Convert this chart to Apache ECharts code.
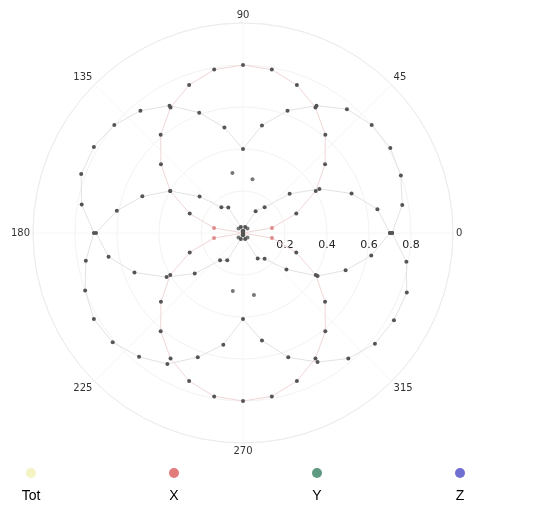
<!DOCTYPE html>
<html>
<head>
<meta charset="utf-8">
<script src="https://cdn.jsdelivr.net/npm/echarts@6/dist/echarts.min.js"></script>
<style>
  html, body { margin: 0; padding: 0; background: #fff; }
  #chart { width: 538px; height: 509px; }
</style>
</head>
<body>
<div id="chart"></div>
<script>
// angle samples (degrees) shared by Tot, X, Y
const angles = [0, 10, 20, 30, 40, 50, 60, 70, 80, 90, 100, 110, 120, 130, 140, 150, 160, 170, 180,
  190, 200, 210, 220, 230, 240, 250, 260, 270, 280, 290, 300, 310, 320, 330, 340, 350, 360]

// radius values
const totR = [0.71, 0.77, 0.80, 0.81, 0.80, 0.77, 0.70, 0.62, 0.52, 0.40, 0.51, 0.61, 0.70, 0.76, 0.80, 0.82, 0.82, 0.78, 0.71,
  0.76, 0.80, 0.82, 0.81, 0.77, 0.72, 0.63, 0.54, 0.41, 0.52, 0.63, 0.71, 0.78, 0.82, 0.83, 0.83, 0.79, 0.71]
const xR = [0.70, 0.65, 0.55, 0.42, 0.29, 0.16, 0.12, 0.03, 0.01, 0, 0.01, 0.03, 0.14, 0.16, 0.27, 0.40, 0.51, 0.61, 0.70,
  0.65, 0.55, 0.42, 0.30, 0.17, 0.15, 0.03, 0.01, 0, 0.01, 0.03, 0.14, 0.16, 0.27, 0.41, 0.52, 0.62, 0.70]
const yR = [0, 0.14, 0.27, 0.40, 0.51, 0.61, 0.69, 0.75, 0.79, 0.80, 0.79, 0.75, 0.69, 0.61, 0.51, 0.40, 0.27, 0.14, 0,
  0.14, 0.27, 0.40, 0.51, 0.61, 0.69, 0.75, 0.79, 0.80, 0.79, 0.75, 0.69, 0.61, 0.51, 0.40, 0.27, 0.14, 0]
// Z only shows a few points
const zAngles = [45, 80, 100, 135, 225, 260, 280, 315]
const zR = [0.03, 0.26, 0.29, 0.03, 0.03, 0.28, 0.30, 0.03]

const seriesNames = ['Tot', 'X', 'Y', 'Z']
const legendColors = ['#f3f3c4', '#e27b7b', '#5e9a80', '#7070d2']

const chart = echarts.init(document.getElementById('chart'))

const pairs = (rs, as) => rs.map((r, i) => [r, as[i]])

const rich = {
  t: { fontFamily: 'Liberation Sans', fontSize: 14, color: '#000', width: 52, align: 'center', lineHeight: 32 }
}
legendColors.forEach((c, i) => {
  rich['d' + i] = { width: 10, height: 10, borderRadius: 5, backgroundColor: c, align: 'center', lineHeight: 14 }
})

const lineSeries = (name, data, lineColor, pointColor) => ({
  name,
  type: 'line',
  coordinateSystem: 'polar',
  data,
  symbol: 'circle',
  symbolSize: 4,
  showSymbol: true,
  lineStyle: { color: lineColor, width: 1 },
  itemStyle: { color: pointColor },
  animation: false
})

const option = {
  backgroundColor: '#fff',
  polar: {
    center: [243, 233],
    radius: 210
  },
  angleAxis: {
    type: 'value',
    min: 0,
    max: 360,
    interval: 45,
    startAngle: 0,
    clockwise: false,
    axisLine: { lineStyle: { color: '#ececec', width: 1 } },
    axisTick: { show: false },
    splitLine: { show: true, lineStyle: { color: '#f6f6f6' } },
    axisLabel: {
      margin: 3,
      fontFamily: 'DejaVu Sans',
      fontSize: 10,
      color: '#333',
      formatter: v => (v === 360 ? '' : String(v))
    }
  },
  radiusAxis: {
    type: 'value',
    min: 0,
    max: 1,
    interval: 0.2,
    axisLine: { show: false },
    axisTick: { show: false },
    splitLine: { show: true, lineStyle: { color: '#f3f3f3' } },
    axisLabel: {
      margin: -18,
      fontFamily: 'DejaVu Sans',
      fontSize: 11,
      color: '#222',
      formatter: v => (v > 0.01 && v < 0.99 ? v.toFixed(1) : '')
    }
  },
  legend: {
    data: seriesNames,
    left: 0,
    top: 467,
    padding: 0,
    icon: 'none',
    itemWidth: 0,
    itemGap: 86,
    formatter: name => '{d' + seriesNames.indexOf(name) + '|}\n{t|' + name + '}',
    textStyle: { rich }
  },
  series: [
    lineSeries('Tot', pairs(totR, angles), '#e2e2e2', '#555'),
    lineSeries('X', pairs(xR, angles), '#e2e2e2', '#555'),
    Object.assign(lineSeries('Y', pairs(yR, angles), '#efd6d6', '#555'), {
      itemStyle: { color: p => (p.value[0] > 0.05 && p.value[0] < 0.2 ? '#e08c8c' : '#555') }
    }),
    {
      name: 'Z',
      type: 'scatter',
      coordinateSystem: 'polar',
      data: pairs(zR, zAngles),
      symbolSize: 4,
      itemStyle: { color: '#555' },
      animation: false
    }
  ]
}

chart.setOption(option)
</script>
</body>
</html>
